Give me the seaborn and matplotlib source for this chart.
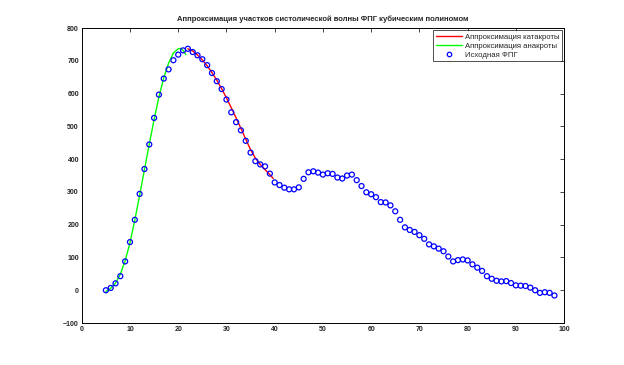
#!/usr/bin/env python
# coding: utf8

""" PPG systolic wave - cubic approximation. """

import numpy as np
import pandas as pd
import seaborn as sns
from matplotlib import pyplot as plt
from matplotlib.lines import Line2D

# source PPG samples
ppg_x = list(range(5, 99))
ppg_y = [0, 7, 21, 43, 88, 147, 215, 294, 370, 445,
         526, 597, 646, 674, 702, 719, 732, 737, 727, 717,
         705, 687, 663, 638, 614, 582, 543, 513, 488, 456,
         420, 394, 384, 378, 356, 329, 321, 313, 308, 308,
         314, 340, 360, 363, 359, 353, 357, 355, 344, 341,
         350, 353, 336, 318, 299, 293, 284, 269, 268, 259,
         241, 215, 192, 184, 178, 168, 157, 140, 134, 127,
         119, 103, 88, 92, 94, 91, 79, 69, 59, 43,
         35, 29, 27, 28, 22, 15, 14, 13, 8, 0,
         -8, -6, -8, -16]

# anacrota approximation (green)
ana_x = [5, 6, 7, 8, 9, 10, 11, 12, 13, 14, 15, 16, 17, 18, 19, 20, 20.5, 21, 21.6]
ana_y = [-4, 6, 22, 49, 90, 145, 214, 290, 368, 446, 521, 590, 648, 693, 724, 737, 738, 732, 719]

# catacrota approximation (red)
kata_x = [22, 23, 24, 25, 26, 27, 28, 29, 30, 31, 32, 33, 34, 35, 36, 37, 38, 39, 39.7]
kata_y = [737, 730, 718, 703, 685, 664, 641, 615, 587, 557, 526, 494, 461, 429, 403, 384, 368, 353, 341]

title = 'Аппроксимация участков систолической волны ФПГ кубическим полиномом'
labels = ['Аппроксимация катакроты', 'Аппроксимация анакроты', 'Исходная ФПГ']

sns.set_style('white')
plt.rcParams['font.family'] = ['Liberation Sans', 'DejaVu Sans']

fig = plt.figure(figsize=(6.24, 3.65), dpi=100)
ax = fig.add_axes([0.131, 0.115, 0.773, 0.808])

df = pd.DataFrame({'x': ppg_x, 'y': ppg_y})
sns.lineplot(x=ana_x, y=ana_y, color='#00ff00', linewidth=1, ax=ax)
sns.lineplot(x=kata_x, y=kata_y, color='red', linewidth=1, ax=ax)
sns.scatterplot(data=df, x='x', y='y', marker='o', s=13, facecolors='none',
                edgecolor='blue', linewidth=0.9, ax=ax, zorder=3)

ax.set_xlim(0, 100)
ax.set_ylim(-100, 800)
ax.set_xticks(np.arange(0, 101, 10))
ax.set_yticks(np.arange(-100, 801, 100))
ax.set_xlabel('')
ax.set_ylabel('')
ax.tick_params(direction='in', top=True, right=True, length=3, width=0.6,
               labelsize=5, pad=2)
for lab in ax.get_xticklabels() + ax.get_yticklabels():
    lab.set_fontweight('bold')
for sp in ax.spines.values():
    sp.set_linewidth(0.7)
    sp.set_color('black')
ax.set_title(title, fontsize=5.5, fontweight='bold', pad=5)

handles = [Line2D([0], [0], color='red', lw=1),
           Line2D([0], [0], color='#00ff00', lw=1),
           Line2D([0], [0], color='blue', marker='o', ls='', mfc='none', ms=3.2, mew=0.9)]
leg = ax.legend(handles, labels, loc='upper right', fontsize=5.6, frameon=True,
                fancybox=False, edgecolor='black', handlelength=3.4,
                borderaxespad=0.3, labelspacing=0.2, handletextpad=0.3, borderpad=0.35)
leg.get_frame().set_linewidth(0.6)

plt.savefig('out.png', dpi=100)
plt.close()
